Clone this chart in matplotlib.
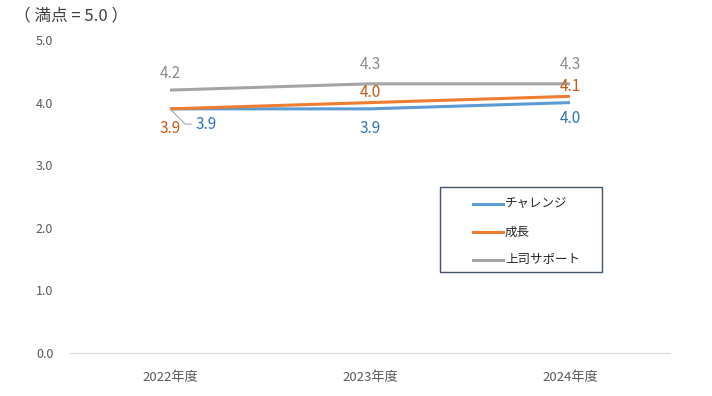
import matplotlib
matplotlib.use("Agg")
import matplotlib.pyplot as plt
from matplotlib.lines import Line2D
from matplotlib.patches import Rectangle

plt.rcParams['font.family'] = ['Noto Sans CJK JP', 'DejaVu Sans']

categories = ["2022年度", "2023年度", "2024年度"]
challenge = [3.9, 3.9, 4.0]
growth = [3.9, 4.0, 4.1]
support = [4.2, 4.3, 4.3]
series_names = ["チャレンジ", "成長", "上司サポート"]
yticks = [0.0, 1.0, 2.0, 3.0, 4.0, 5.0]

W, H = 712, 396
fig = plt.figure(figsize=(W / 100, H / 100), dpi=100)
ax = fig.add_axes([70 / W, 1 - 353 / H, 600 / W, 313 / H])

c_blue, c_orange, c_gray = "#5B9BD5", "#ED7D31", "#A5A5A5"
t_blue, t_orange, t_gray = "#2E75B6", "#C55A11", "#8C8C8C"
colors = [c_blue, c_orange, c_gray]

x = list(range(len(categories)))
for vals, col, name in zip([challenge, growth, support], colors, series_names):
    ax.plot(x, vals, color=col, lw=2.2, label=name, solid_capstyle='butt')

ax.set_xlim(-0.5, 2.5)
ax.set_ylim(0, 5)
ax.set_yticks(yticks)
ax.set_yticklabels([f"{v:.1f}" for v in yticks], fontsize=9, color="#595959")
ax.set_xticks(x)
ax.set_xticklabels(categories, fontsize=9.5, color="#595959")
ax.tick_params(axis='y', length=0, pad=12)
ax.tick_params(axis='x', length=0, pad=13)
for s in ["top", "right", "left"]:
    ax.spines[s].set_visible(False)
ax.spines["bottom"].set_color("#D9D9D9")

fs = 11
# support labels (above)
for i, v in enumerate(support):
    ax.annotate(f"{v:.1f}", (i, v), xytext=(0, 6 if i == 0 else 8), textcoords="offset points",
                ha="center", va="bottom", color=t_gray, fontsize=fs)
# growth labels
ax.annotate(f"{growth[0]:.1f}", (0, growth[0]), xytext=(0, -8), textcoords="offset points",
            ha="center", va="top", color=t_orange, fontsize=fs)
for i in (1, 2):
    ax.annotate(f"{growth[i]:.1f}", (i, growth[i]), xytext=(0, 1), textcoords="offset points",
                ha="center", va="bottom", color=t_orange, fontsize=fs)
# challenge labels
ax.annotate(f"{challenge[0]:.1f}", (0, challenge[0]), xytext=(26, -11), textcoords="offset points",
            ha="center", va="center", color=t_blue, fontsize=fs,
            arrowprops=dict(arrowstyle="-", color="#A6A6A6", lw=0.8, shrinkA=1, shrinkB=0,
                            relpos=(0, 0.5),
                            connectionstyle="angle,angleA=180,angleB=-45,rad=0"))
ax.annotate(f"{challenge[1]:.1f}", (1, challenge[1]), xytext=(0, -8), textcoords="offset points",
            ha="center", va="top", color=t_blue, fontsize=fs)
ax.annotate(f"{challenge[2]:.1f}", (2, challenge[2]), xytext=(0, -5), textcoords="offset points",
            ha="center", va="top", color=t_blue, fontsize=fs)

# legend (manual box)
lx0, ly0, lx1, ly1 = 440, 187, 602, 272
fig.patches.append(Rectangle((lx0 / W, 1 - ly1 / H), (lx1 - lx0) / W, (ly1 - ly0) / H,
                             transform=fig.transFigure, fill=False, edgecolor="#44546A", lw=1.0))
for k, (name, col) in enumerate(zip(series_names, colors)):
    yy = 1 - (204 + 28 * k) / H
    fig.lines.append(Line2D([473 / W, 503 / W], [yy, yy], transform=fig.transFigure,
                            color=col, lw=2.2))
    fig.text(505 / W, yy, name, fontsize=9, color="#262626", va="center", ha="left")

fig.text(14 / W, 1 - 16 / H, "（ 満点 = 5.0 ）", fontsize=12, color="#404040", va="center", ha="left")

fig.savefig("out.png", dpi=100)
